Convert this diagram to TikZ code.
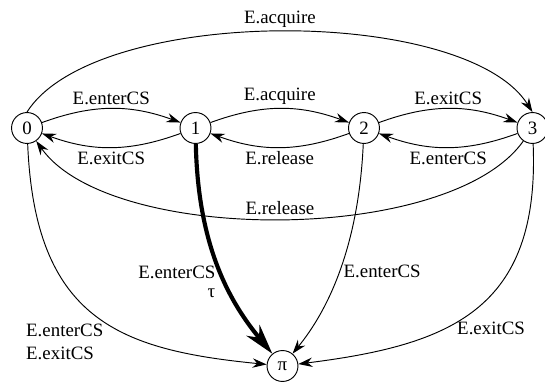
\documentclass[tikz,border=0pt]{standalone}
\usepackage{fontspec}
\setmainfont{Liberation Serif}
\usetikzlibrary{arrows.meta,positioning}
\newcommand{\stategap}{72.4pt}
\newcommand{\statesize}{16.4pt}
\tikzset{
    node distance = 2cm,
    state/.style = { draw, circle, line width=0.5pt,
        node distance = \stategap,
        minimum size = \statesize,
        inner sep = 0pt
    },
    lbl/.style = { align=center,
        inner sep = 2pt
    },
    edge/.style = { line width=0.5pt, -{Stealth[length=7.5pt, width=5pt, inset=2.5pt]} },
    tauedge/.style = { line width=2.2pt, -{Stealth[length=16pt, width=9pt, inset=5pt]} }
}
\begin{document}
\begin{tikzpicture}[x=0.53pt, y=-0.53pt]
        \useasboundingbox (0,0) rectangle (545,383);

        \node[state] (s0) at (27,128) {0};
        \node[state] (s1) [right = of s0] {1};
        \node[state] (s2) [right = of s1] {2};
        \node[state] (s3) [right = of s2] {3};
        \node[state] (pi) at (282.5,366) {π};

        % ring edges...
        \draw[edge] (s0) to[bend left=20] node[lbl, above] {E.enterCS} (s1);
        \draw[edge] (s1) to[bend left=20] node[lbl, below] {E.exitCS} (s0);
        \draw[edge] (s1) to[bend left=20] node[lbl, above] {E.acquire} (s2);
        \draw[edge] (s2) to[bend left=20] node[lbl, below] {E.release} (s1);
        \draw[edge] (s2) to[bend left=20] node[lbl, above] {E.exitCS} (s3);
        \draw[edge] (s3) to[bend left=20] node[lbl, below] {E.enterCS} (s2);

        % long arcs...
        \draw[edge] (s0.north) .. controls (95,5) and (465,5) .. node[lbl, above] {E.acquire} (s3.north);
        \draw[edge] (s3) .. controls (450,245) and (110,245) .. node[lbl, above] {E.release} (s0);

        % edges into pi...
        \draw[edge] (s0) .. controls (35,320) and (120,350) .. node[lbl, pos=0.53, anchor=north east, align=left, xshift=2.7pt] {E.enterCS\\E.exitCS} (pi);
        \draw[tauedge] (s1) .. controls (198,250) and (232,305) .. node[lbl, pos=0.56, anchor=east, align=right, xshift=-2pt] {E.enterCS\\[-2pt]τ\hspace{2pt}} (pi);
        \draw[edge] (s2) .. controls (358,260) and (320,320) .. node[lbl, pos=0.46, right] {E.enterCS} (pi);
        \draw[edge] (s3) .. controls (540,310) and (450,345) .. node[lbl, pos=0.55, anchor=north west, xshift=-5pt] {E.exitCS} (pi);

\end{tikzpicture}
\end{document}
